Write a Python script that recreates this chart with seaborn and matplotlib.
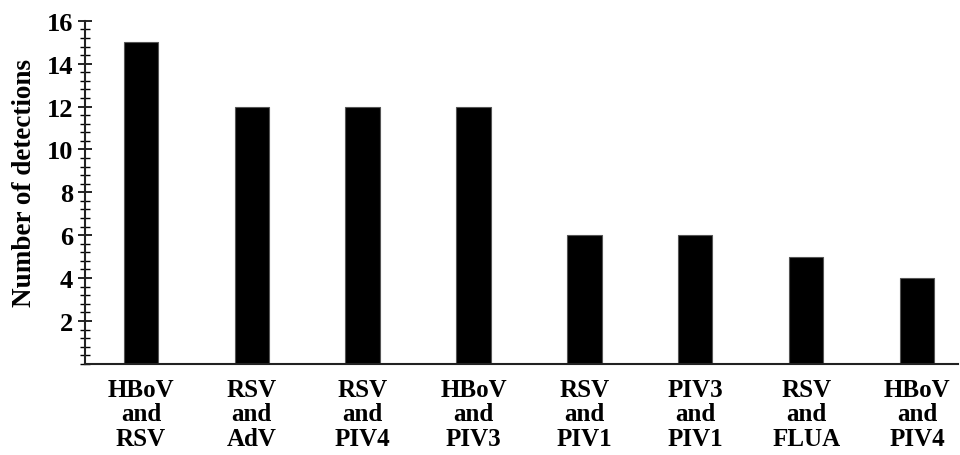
import matplotlib
matplotlib.use('Agg')
import matplotlib.pyplot as plt
import seaborn as sns
from matplotlib.ticker import MultipleLocator

# Data
pairs = ['HBoV\nand\nRSV', 'RSV\nand\nAdV', 'RSV\nand\nPIV4', 'HBoV\nand\nPIV3',
         'RSV\nand\nPIV1', 'PIV3\nand\nPIV1', 'RSV\nand\nFLUA', 'HBoV\nand\nPIV4']
detections = [15, 12, 12, 12, 6, 6, 5, 4]
y_ticks = [2, 4, 6, 8, 10, 12, 14, 16]

sns.set_style('white')
plt.rcParams['font.family'] = ['Liberation Serif', 'DejaVu Serif']
plt.rcParams['font.weight'] = 'bold'
plt.rcParams['text.color'] = 'black'
plt.rcParams['axes.labelcolor'] = 'black'
plt.rcParams['xtick.color'] = 'black'
plt.rcParams['ytick.color'] = 'black'

fig = plt.figure(figsize=(9.6, 4.56), dpi=100)
ax = fig.add_axes([0.089, 0.2, 0.909, 0.752])

sns.barplot(x=pairs, y=detections, color='black', saturation=1, width=0.31,
            edgecolor='#555555', linewidth=0.8, ax=ax)

ax.set_ylim(0, 16)
ax.set_xlim(-0.5, 7.37)
ax.set_yticks(y_ticks)
ax.yaxis.set_minor_locator(MultipleLocator(0.4))
ax.tick_params(axis='y', which='major', direction='inout', length=10, width=1.2,
               labelsize=19, pad=4, left=True, colors='black')
ax.tick_params(axis='y', which='minor', direction='inout', length=7, width=1,
               left=True, colors='black')
ax.tick_params(axis='x', length=0, labelsize=18, pad=10, colors='black')
for lbl in ax.get_xticklabels() + ax.get_yticklabels():
    lbl.set_fontweight('bold')
for lbl in ax.get_xticklabels():
    lbl.set_linespacing(1.08)

ax.set_ylabel('Number of detections', fontsize=19.5, fontweight='bold',
              labelpad=7, color='black')
ax.yaxis.label.set_y(0.53)

sns.despine(ax=ax)
ax.spines['left'].set_color('#222222')
ax.spines['bottom'].set_color('#222222')
ax.spines['left'].set_linewidth(1.5)
ax.spines['bottom'].set_linewidth(1.5)

fig.savefig('out.png', dpi=100)
